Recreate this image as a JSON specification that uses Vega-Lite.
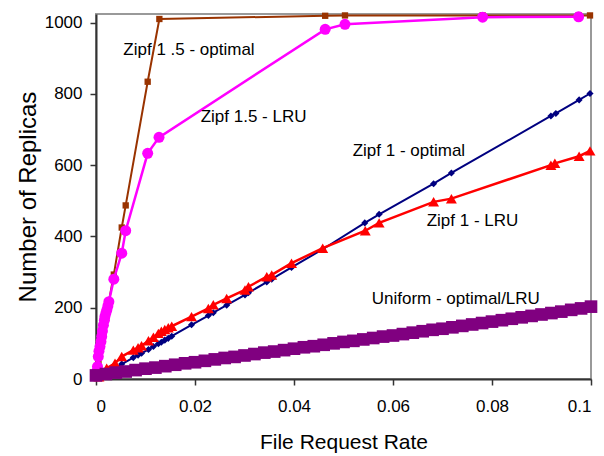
{
  "$schema": "https://vega.github.io/schema/vega-lite/v6.json",
  "width": 495,
  "height": 365,
  "autosize": {"type": "none"},
  "padding": {"left": 96, "top": 14, "right": 13, "bottom": 77},
  "background": "white",
  "config": {
    "font": "Liberation Sans",
    "view": {"stroke": "#999999", "strokeWidth": 2},
    "axis": {
      "grid": false,
      "domainColor": "#333333",
      "domainWidth": 2,
      "tickColor": "#333333",
      "tickSize": 6,
      "tickWidth": 1.5,
      "labelFontSize": 17,
      "labelColor": "#000000",
      "titleFontSize": 21,
      "titleFontWeight": "normal",
      "titleColor": "#000000"
    }
  },
  "datasets": {
    "z15opt": [
      {"x": 0, "y": 5}, {"x": 0.0005, "y": 45}, {"x": 0.0015, "y": 125}, {"x": 0.0025, "y": 210},
      {"x": 0.0036, "y": 293}, {"x": 0.0052, "y": 425}, {"x": 0.006, "y": 487}, {"x": 0.01044, "y": 834},
      {"x": 0.0128, "y": 1010}, {"x": 0.0463, "y": 1019}, {"x": 0.0503, "y": 1020}, {"x": 0.0781, "y": 1020},
      {"x": 0.0975, "y": 1020}, {"x": 0.0998, "y": 1020}
    ],
    "z15lru": [
      {"x": 0.0001, "y": 12}, {"x": 0.0002, "y": 22}, {"x": 0.0003, "y": 35}, {"x": 0.00046, "y": 63},
      {"x": 0.0006, "y": 78}, {"x": 0.0008, "y": 91}, {"x": 0.001, "y": 105}, {"x": 0.00115, "y": 119},
      {"x": 0.0013, "y": 135}, {"x": 0.0015, "y": 151}, {"x": 0.0017, "y": 165}, {"x": 0.0018, "y": 175},
      {"x": 0.002, "y": 185}, {"x": 0.0022, "y": 194}, {"x": 0.0024, "y": 205}, {"x": 0.0026, "y": 217},
      {"x": 0.0036, "y": 280}, {"x": 0.0052, "y": 353}, {"x": 0.006, "y": 416}, {"x": 0.01044, "y": 633},
      {"x": 0.01273, "y": 678}, {"x": 0.0463, "y": 981}, {"x": 0.0503, "y": 995}, {"x": 0.0781, "y": 1015},
      {"x": 0.0975, "y": 1016}
    ],
    "z1opt": [
      {"x": 0.0006, "y": 4}, {"x": 0.00216, "y": 18}, {"x": 0.00384, "y": 31}, {"x": 0.0052, "y": 42},
      {"x": 0.00754, "y": 60}, {"x": 0.0085, "y": 67}, {"x": 0.0092, "y": 72}, {"x": 0.0106, "y": 83},
      {"x": 0.0116, "y": 91}, {"x": 0.0126, "y": 99}, {"x": 0.0132, "y": 103}, {"x": 0.0139, "y": 109},
      {"x": 0.0146, "y": 114}, {"x": 0.0153, "y": 120}, {"x": 0.0193, "y": 152}, {"x": 0.0227, "y": 178},
      {"x": 0.0237, "y": 186}, {"x": 0.0264, "y": 207}, {"x": 0.0301, "y": 236}, {"x": 0.0308, "y": 242},
      {"x": 0.0345, "y": 272}, {"x": 0.0355, "y": 280}, {"x": 0.0395, "y": 313}, {"x": 0.0458, "y": 364},
      {"x": 0.0543, "y": 438}, {"x": 0.0572, "y": 462}, {"x": 0.0682, "y": 548}, {"x": 0.0718, "y": 578},
      {"x": 0.0919, "y": 738}, {"x": 0.0929, "y": 745}, {"x": 0.0976, "y": 783}, {"x": 0.0998, "y": 801}
    ],
    "z1lru": [
      {"x": 0.0006, "y": 6}, {"x": 0.00216, "y": 30}, {"x": 0.00384, "y": 44}, {"x": 0.0052, "y": 63},
      {"x": 0.00754, "y": 81}, {"x": 0.0085, "y": 88}, {"x": 0.0092, "y": 93}, {"x": 0.0106, "y": 107},
      {"x": 0.0116, "y": 117}, {"x": 0.0126, "y": 128}, {"x": 0.0132, "y": 134}, {"x": 0.0139, "y": 139},
      {"x": 0.0146, "y": 144}, {"x": 0.0153, "y": 148}, {"x": 0.0193, "y": 175}, {"x": 0.0227, "y": 198},
      {"x": 0.0237, "y": 208}, {"x": 0.0264, "y": 226}, {"x": 0.0301, "y": 250}, {"x": 0.0308, "y": 259},
      {"x": 0.0345, "y": 287}, {"x": 0.0355, "y": 292}, {"x": 0.0395, "y": 325}, {"x": 0.0458, "y": 367},
      {"x": 0.0544, "y": 416}, {"x": 0.0572, "y": 438}, {"x": 0.0682, "y": 497}, {"x": 0.0718, "y": 506},
      {"x": 0.0919, "y": 600}, {"x": 0.0927, "y": 605}, {"x": 0.0976, "y": 625}, {"x": 0.0998, "y": 640}
    ],
    "uniform": [
      {"x": 0, "y": 10}, {"x": 0.002, "y": 14}, {"x": 0.004, "y": 18}, {"x": 0.006, "y": 21},
      {"x": 0.008, "y": 25}, {"x": 0.01, "y": 29}, {"x": 0.012, "y": 32}, {"x": 0.014, "y": 36},
      {"x": 0.016, "y": 40}, {"x": 0.018, "y": 44}, {"x": 0.02, "y": 47}, {"x": 0.022, "y": 51},
      {"x": 0.024, "y": 55}, {"x": 0.026, "y": 59}, {"x": 0.028, "y": 62}, {"x": 0.03, "y": 66},
      {"x": 0.032, "y": 70}, {"x": 0.034, "y": 74}, {"x": 0.036, "y": 77}, {"x": 0.038, "y": 81},
      {"x": 0.04, "y": 85}, {"x": 0.042, "y": 89}, {"x": 0.044, "y": 92}, {"x": 0.046, "y": 96},
      {"x": 0.048, "y": 100}, {"x": 0.05, "y": 104}, {"x": 0.052, "y": 107}, {"x": 0.054, "y": 111},
      {"x": 0.056, "y": 115}, {"x": 0.058, "y": 119}, {"x": 0.06, "y": 122}, {"x": 0.062, "y": 126},
      {"x": 0.064, "y": 130}, {"x": 0.066, "y": 134}, {"x": 0.068, "y": 138}, {"x": 0.07, "y": 141},
      {"x": 0.072, "y": 145}, {"x": 0.074, "y": 149}, {"x": 0.076, "y": 153}, {"x": 0.078, "y": 157},
      {"x": 0.08, "y": 161}, {"x": 0.082, "y": 165}, {"x": 0.084, "y": 169}, {"x": 0.086, "y": 173},
      {"x": 0.088, "y": 177}, {"x": 0.09, "y": 181}, {"x": 0.092, "y": 185}, {"x": 0.094, "y": 189},
      {"x": 0.096, "y": 194}, {"x": 0.098, "y": 198}, {"x": 0.1, "y": 203}
    ],
    "labels": [
      {"x": 0.00552, "y": 909, "text": "Zipf 1 .5 - optimal"},
      {"x": 0.02115, "y": 722, "text": "Zipf 1.5 - LRU"},
      {"x": 0.05186, "y": 625, "text": "Zipf 1 - optimal"},
      {"x": 0.0668, "y": 430, "text": "Zipf 1 - LRU"},
      {"x": 0.0557, "y": 210, "text": "Uniform - optimal/LRU"}
    ]
  },
  "encoding": {
    "x": {
      "field": "x",
      "type": "quantitative",
      "scale": {"domain": [0, 0.1], "nice": false, "zero": false},
      "axis": {"title": "File Request Rate", "values": [0, 0.02, 0.04, 0.06, 0.08, 0.1], "format": "~g", "labelPadding": 13, "titlePadding": 17}
    },
    "y": {
      "field": "y",
      "type": "quantitative",
      "scale": {"domain": [0, 1024], "nice": false},
      "axis": {"title": "Number of Replicas", "values": [0, 200, 400, 600, 800, 1000], "format": "d", "labelPadding": 8, "titlePadding": 4, "titleFontSize": 24}
    }
  },
  "layer": [
    {"data": {"name": "z15opt"}, "mark": {"type": "line", "color": "#993300", "strokeWidth": 2, "clip": false}},
    {"data": {"name": "z15opt"}, "mark": {"type": "point", "shape": "square", "filled": true, "color": "#993300", "size": 40, "opacity": 1, "clip": false}},
    {"data": {"name": "z15lru"}, "mark": {"type": "line", "color": "#ff00ff", "strokeWidth": 2.5, "clip": false}},
    {"data": {"name": "z15lru"}, "mark": {"type": "point", "shape": "circle", "filled": true, "color": "#ff00ff", "size": 121, "opacity": 1, "clip": false}},
    {"data": {"name": "z1opt"}, "mark": {"type": "line", "color": "#000080", "strokeWidth": 2, "clip": false}},
    {"data": {"name": "z1opt"}, "mark": {"type": "point", "shape": "diamond", "filled": true, "color": "#000080", "size": 50, "opacity": 1, "clip": false}},
    {"data": {"name": "z1lru"}, "mark": {"type": "line", "color": "#ff0000", "strokeWidth": 2.5, "clip": false}},
    {"data": {"name": "z1lru"}, "mark": {"type": "point", "shape": "triangle-up", "filled": true, "color": "#ff0000", "size": 120, "opacity": 1, "clip": false}},
    {"data": {"name": "uniform"}, "mark": {"type": "line", "color": "#800080", "strokeWidth": 4, "clip": false}},
    {"data": {"name": "uniform"}, "mark": {"type": "point", "shape": "square", "filled": true, "color": "#800080", "size": 160, "opacity": 1, "clip": false}},
    {"data": {"name": "labels"}, "mark": {"type": "text", "align": "left", "baseline": "alphabetic", "fontSize": 17, "color": "#000000"}, "encoding": {"text": {"field": "text"}}}
  ]
}
